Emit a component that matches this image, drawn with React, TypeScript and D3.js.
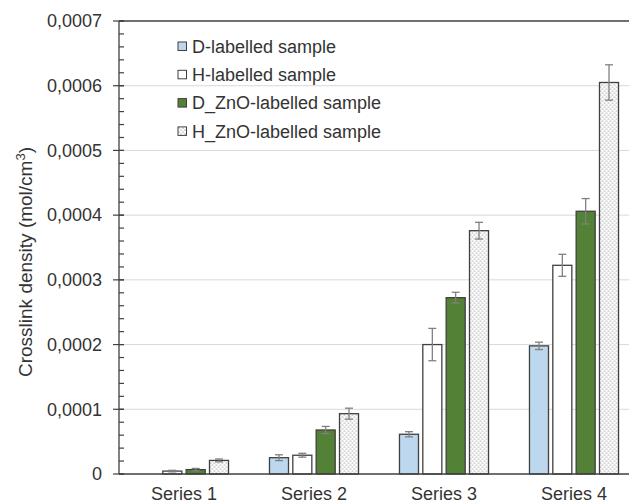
import React from "react";
import { scaleBand, scaleLinear, range } from "d3";

// categories and series
const CATEGORIES = ["Series 1", "Series 2", "Series 3", "Series 4"];
const SERIES = [
  "D-labelled sample",
  "H-labelled sample",
  "D_ZnO-labelled sample",
  "H_ZnO-labelled sample",
];

// values per series, one per category
const D_VALUES = [0, 0.0000252, 0.0000614, 0.000198];
const H_VALUES = [0.0000045, 0.000029, 0.0002, 0.0003225];
const DZNO_VALUES = [0.0000068, 0.000068, 0.0002725, 0.000406];
const HZNO_VALUES = [0.000021, 0.0000932, 0.000376, 0.000605];

// error bar half heights
const D_ERR = [0, 0.0000045, 0.000004, 0.0000057];
const H_ERR = [0.0000012, 0.000003, 0.000025, 0.000017];
const DZNO_ERR = [0.0000018, 0.0000055, 0.0000083, 0.0000196];
const HZNO_ERR = [0.0000022, 0.0000085, 0.0000129, 0.0000273];

const Y_TICKS = [0, 0.0001, 0.0002, 0.0003, 0.0004, 0.0005, 0.0006, 0.0007];
const Y_TICK_LABELS = ["0", "0,0001", "0,0002", "0,0003", "0,0004", "0,0005", "0,0006", "0,0007"];

const VALUES = [D_VALUES, H_VALUES, DZNO_VALUES, HZNO_VALUES];
const ERRORS = [D_ERR, H_ERR, DZNO_ERR, HZNO_ERR];
const FILLS = ["#bdd7ee", "#ffffff", "#538135", "url(#dots)"];

const FONT = "'Liberation Sans', Arial, sans-serif";
const TEXT = "#333333";

export default function App() {
  const width = 629;
  const height = 504;
  const left = 119;
  const top = 21;
  const bottom = 474;

  const y = scaleLinear().domain([0, 0.0007]).range([bottom, top]);
  const x0 = scaleBand<string>()
    .domain(CATEGORIES)
    .range([left, 639])
    .paddingInner(0.315)
    .paddingOuter(0.1575);
  const x1 = scaleBand<number>()
    .domain(range(SERIES.length))
    .range([0, x0.bandwidth()])
    .paddingInner(0.185);

  // minor ticks, 5 per major interval
  const minor = range(0, 36).map((i) => i * 0.00002);

  return (
    <svg
      width={width}
      height={height}
      style={{ position: "absolute", left: 0, top: 0, background: "#fff" }}
      fontFamily={FONT}
    >
      <defs>
        <pattern id="dots" width={4} height={4} patternUnits="userSpaceOnUse">
          <rect width={4} height={4} fill="#ffffff" />
          <circle cx={1} cy={1} r={0.55} fill="#555" />
          <circle cx={3} cy={3} r={0.55} fill="#555" />
        </pattern>
      </defs>

      {/* grid */}
      {Y_TICKS.slice(1, -1).map((t) => (
        <line key={t} x1={left} x2={width} y1={y(t)} y2={y(t)} stroke="#d9d9d9" strokeWidth={1} />
      ))}

      {/* bars */}
      {CATEGORIES.map((c, ci) => (
        <g key={c} transform={`translate(${x0(c)},0)`}>
          {VALUES.map((vals, si) => {
            const v = vals[ci];
            if (v <= 0) return null;
            const bx = x1(si)!;
            const bw = x1.bandwidth();
            const e = ERRORS[si][ci];
            const cx = bx + bw / 2;
            return (
              <g key={si}>
                <rect
                  x={bx}
                  y={y(v)}
                  width={bw}
                  height={y(0) - y(v)}
                  fill={FILLS[si]}
                  stroke="#404040"
                  strokeWidth={1.3}
                />
                <g stroke="#808080" strokeWidth={1.3}>
                  <line x1={cx} x2={cx} y1={y(v - e)} y2={y(v + e)} />
                  <line x1={cx - 4} x2={cx + 4} y1={y(v + e)} y2={y(v + e)} />
                  <line x1={cx - 4} x2={cx + 4} y1={y(v - e)} y2={y(v - e)} />
                </g>
              </g>
            );
          })}
        </g>
      ))}

      {/* axes */}
      <line x1={left} x2={width} y1={top} y2={top} stroke="#404040" strokeWidth={1.3} />
      <line x1={left} x2={width} y1={bottom} y2={bottom} stroke="#404040" strokeWidth={1.3} />
      <line x1={left} x2={left} y1={top} y2={bottom} stroke="#404040" strokeWidth={1.3} />
      {minor.map((t) => (
        <line key={t} x1={left} x2={left + 5} y1={y(t)} y2={y(t)} stroke="#404040" strokeWidth={1.2} />
      ))}
      {Y_TICKS.map((t, i) => (
        <g key={t}>
          <line x1={left - 6} x2={left + 5} y1={y(t)} y2={y(t)} stroke="#404040" strokeWidth={1.2} />
          <text x={102} y={y(t)} dy="0.35em" textAnchor="end" fontSize={18} fill={TEXT}>
            {Y_TICK_LABELS[i]}
          </text>
        </g>
      ))}
      {CATEGORIES.map((c) => (
        <text key={c} x={x0(c)! + x0.bandwidth() / 2} y={500} textAnchor="middle" fontSize={18} fill={TEXT}>
          {c}
        </text>
      ))}

      {/* y axis title */}
      <text
        transform={`translate(32,262) rotate(-90)`}
        textAnchor="middle"
        fontSize={19}
        fill={TEXT}
      >
        Crosslink density (mol/cm<tspan baselineShift="super" fontSize={13}>3</tspan>)
      </text>

      {/* legend */}
      {SERIES.map((s, i) => (
        <g key={s} transform={`translate(178,${42 + i * 28.3})`}>
          <rect width={8.5} height={8.5} fill={FILLS[i]} stroke="#404040" strokeWidth={1} />
          <text x={14} y={4.5} dy="0.35em" fontSize={18} fill={TEXT}>
            {s}
          </text>
        </g>
      ))}
    </svg>
  );
}
